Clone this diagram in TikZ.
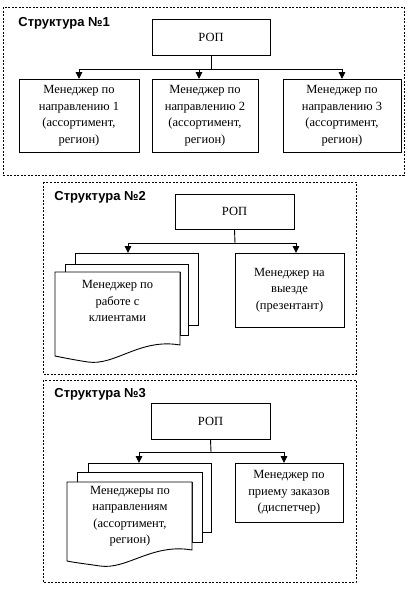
\documentclass[tikz,border=0pt]{standalone}
\usepackage{fontspec}
\setmainfont{Liberation Serif}
\newfontfamily\titlefont{Liberation Sans}
\usetikzlibrary{arrows.meta}
\begin{document}
\begin{tikzpicture}[x=1pt,y=-1pt,line width=0.9pt,
  frame/.style={draw,line width=0.6pt,dash pattern=on 2pt off 1.5pt},
  ttl/.style={anchor=west,inner sep=0pt,font=\titlefont\bfseries\fontsize{13}{15}\selectfont},
  box/.style={draw,rectangle,align=center,inner sep=0pt,font=\fontsize{12.5}{16.5}\selectfont},
  txt/.style={align=center,inner sep=0pt,font=\fontsize{12.5}{16.5}\selectfont},
  sheet/.style={draw,fill=white},
  arr/.style={-{Triangle[width=6.5pt,length=7pt]}}]
\useasboundingbox (0,0) rectangle (413,590);

% ---------- Structure 1 ----------
\draw[frame] (3,7) rectangle (404,175);
\node[ttl] (t1) at (18,23) {Структура №1};
\node[box,minimum width=118pt,minimum height=36pt] (rop1) at (211,37) {РОП};
\node[box,minimum width=120pt,minimum height=73pt] (m11) at (79,115.5)
  {Менеджер по\\направлению 1\\(ассортимент,\\регион)};
\node[box,minimum width=106pt,minimum height=73pt] (m12) at (205,115.5)
  {Менеджер по\\направлению 2\\(ассортимент,\\регион)};
\node[box,minimum width=118pt,minimum height=73pt] (m13) at (342,115.5)
  {Менеджер по\\направлению 3\\(ассортимент,\\регион)};
\coordinate (j1) at (211,69);
\coordinate (a11) at (79,79);
\coordinate (a12) at (199,79);
\coordinate (a13) at (342,79);
\draw (rop1.south) -- (j1);
\draw[arr] (j1) -| (a11);
\draw[arr] (j1) -| (a12);
\draw[arr] (j1) -| (a13);

% ---------- Structure 2 ----------
\draw[frame] (43,182) rectangle (356,374);
\node[ttl] (t2) at (54,197) {Структура №2};
\node[box,minimum width=119pt,minimum height=35pt] (rop2) at (234.5,211.5) {РОП};
% multidocument
\draw[sheet] (75,253) -- (198,253) -- (198,325) -- (188,325) -- (188,264) -- (75,264) -- cycle;
\draw[sheet] (65,264) -- (188,264) -- (188,335) -- (180,335) -- (180,272) -- (65,272) -- cycle;
\draw[sheet] (55,272) -- (180,272) -- (180,345)
  .. controls (140,338) and (115,366) .. (88,362)
  .. controls (75,360) and (65,358) .. (55,356) -- cycle;
\node[txt] (m21) at (117.5,301) {Менеджер по\\работе с\\клиентами};
\node[box,minimum width=109pt,minimum height=74pt] (m22) at (289.5,290)
  {Менеджер на\\выезде\\(презентант)};
\coordinate (j2) at (235,243);
\coordinate (a21) at (128,253);
\coordinate (a22) at (296,253);
\draw (rop2.south) -- (j2);
\draw[arr] (j2) -| (a21);
\draw[arr] (j2) -| (a22);

% ---------- Structure 3 ----------
\draw[frame] (43,380) rectangle (356,582);
\node[ttl] (t3) at (54,394) {Структура №3};
\node[box,minimum width=119pt,minimum height=36pt] (rop3) at (210.5,421) {РОП};
\draw[sheet] (88,463) -- (211,463) -- (211,532) -- (202,532) -- (202,472) -- (88,472) -- cycle;
\draw[sheet] (77,472) -- (202,472) -- (202,542) -- (192,542) -- (192,482) -- (77,482) -- cycle;
\draw[sheet] (67,482) -- (192,482) -- (192,550)
  .. controls (152,543) and (127,570) .. (100,566)
  .. controls (87,564) and (77,563) .. (67,561) -- cycle;
\node[txt] (m31) at (130,516) {Менеджеры по\\направлениям\\(ассортимент,\\регион)};
\node[box,minimum width=108pt,minimum height=59pt] (m32) at (289,492.5)
  {Менеджер по\\приему заказов\\(диспетчер)};
\coordinate (j3) at (211,452);
\coordinate (a31) at (139,463);
\coordinate (a32) at (284,463);
\draw (rop3.south) -- (j3);
\draw[arr] (j3) -| (a31);
\draw[arr] (j3) -| (a32);
\end{tikzpicture}
\end{document}
